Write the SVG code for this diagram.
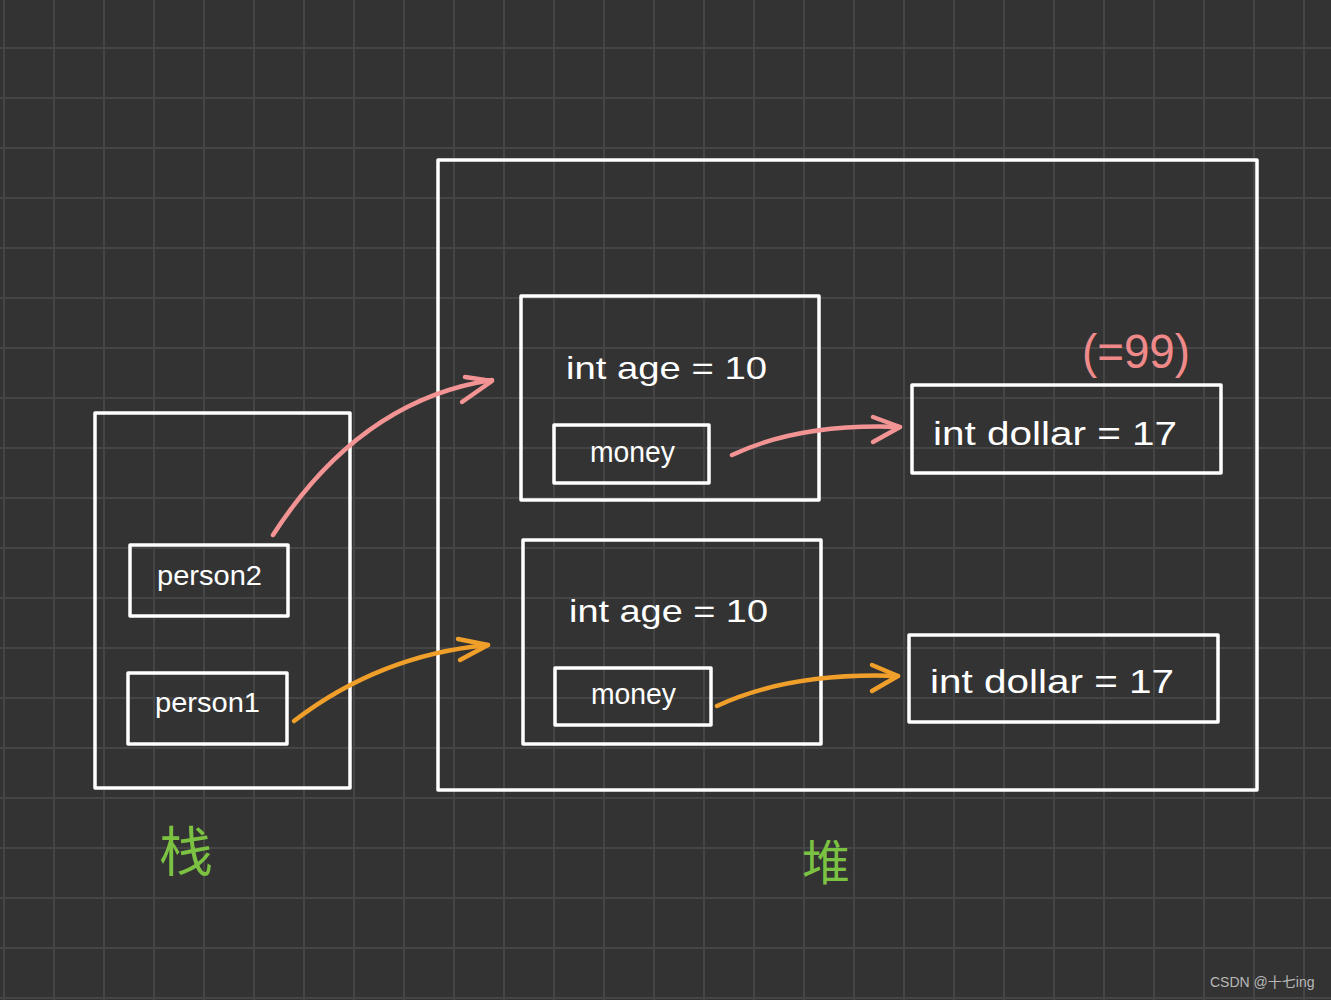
<svg xmlns="http://www.w3.org/2000/svg" width="1331" height="1000" viewBox="0 0 1331 1000">
<defs>
<pattern id="grid" x="3" y="-3" width="50" height="50" patternUnits="userSpaceOnUse">
<path d="M0 1H50M1 0V50" fill="none" stroke="#454545" stroke-width="2"/>
</pattern>
<style>
.box{fill:none;stroke:#ffffff;stroke-width:3.5;stroke-linejoin:round}
.hw{font-family:"Liberation Sans","Noto Sans CJK SC",sans-serif;fill:#ffffff}
.pink{fill:none;stroke:#f39494;stroke-width:4.5;stroke-linecap:round;stroke-linejoin:round}
.orange{fill:none;stroke:#f0a02a;stroke-width:4.5;stroke-linecap:round;stroke-linejoin:round}
.cn{font-family:"Noto Sans CJK SC",sans-serif;fill:#7cc242}
</style>
</defs>
<rect width="1331" height="1000" fill="#333333"/>
<rect width="1331" height="1000" fill="url(#grid)"/>

<g id="stack">
<rect class="box" x="95" y="413" width="255" height="375"/>
<text class="cn" x="159" y="872" font-size="54">栈</text>
</g>
<g id="person2">
<rect class="box" x="130" y="545" width="158" height="71"/>
<text class="hw" x="157" y="585" font-size="28" textLength="105" lengthAdjust="spacingAndGlyphs">person2</text>
</g>
<g id="person1">
<rect class="box" x="128" y="673" width="159" height="71"/>
<text class="hw" x="155" y="712" font-size="28" textLength="105" lengthAdjust="spacingAndGlyphs">person1</text>
</g>

<g id="heap">
<rect class="box" x="438" y="160" width="819" height="630"/>
<text class="cn" x="802" y="880" font-size="48">堆</text>
</g>
<g id="object1">
<rect class="box" x="521" y="296" width="298" height="204"/>
<text class="hw" x="566" y="379" font-size="32" textLength="201" lengthAdjust="spacingAndGlyphs">int age = 10</text>
</g>
<g id="money1">
<rect class="box" x="554" y="425" width="155" height="58"/>
<text class="hw" x="590" y="462" font-size="30" textLength="85" lengthAdjust="spacingAndGlyphs">money</text>
</g>
<g id="object2">
<rect class="box" x="523" y="540" width="298" height="204"/>
<text class="hw" x="569" y="622" font-size="32" textLength="199" lengthAdjust="spacingAndGlyphs">int age = 10</text>
</g>
<g id="money2">
<rect class="box" x="555" y="668" width="156" height="57"/>
<text class="hw" x="591" y="704" font-size="30" textLength="85" lengthAdjust="spacingAndGlyphs">money</text>
</g>
<g id="dollar1">
<rect class="box" x="912" y="385" width="309" height="88"/>
<text class="hw" x="933" y="445" font-size="34" textLength="244" lengthAdjust="spacingAndGlyphs">int dollar = 17</text>
<text x="1082" y="368" font-size="48" fill="#f08a8a" font-family="Liberation Sans,sans-serif" textLength="108" lengthAdjust="spacingAndGlyphs">(=99)</text>
</g>
<g id="dollar2">
<rect class="box" x="909" y="635" width="309" height="87"/>
<text class="hw" x="930" y="693" font-size="34" textLength="244" lengthAdjust="spacingAndGlyphs">int dollar = 17</text>
</g>

<g id="connectors">
<path class="pink" d="M273 535 Q360 400 492 380"/>
<path class="pink" d="M465 377 L492 381 L462 402"/>
<path class="orange" d="M294 721 Q380 655 488 645"/>
<path class="orange" d="M458 639 L488 645 L460 660"/>
<path class="pink" d="M732 455 Q800 423 900 427"/>
<path class="pink" d="M873 417 L900 427 L873 442"/>
<path class="orange" d="M717 706 Q790 672 898 676"/>
<path class="orange" d="M872 665 L898 676 L872 691"/>
</g>

<text x="1210" y="987" font-size="14" fill="#b8b8b8" font-family="Liberation Sans,Noto Sans CJK SC,sans-serif">CSDN @十七ing</text>
</svg>
